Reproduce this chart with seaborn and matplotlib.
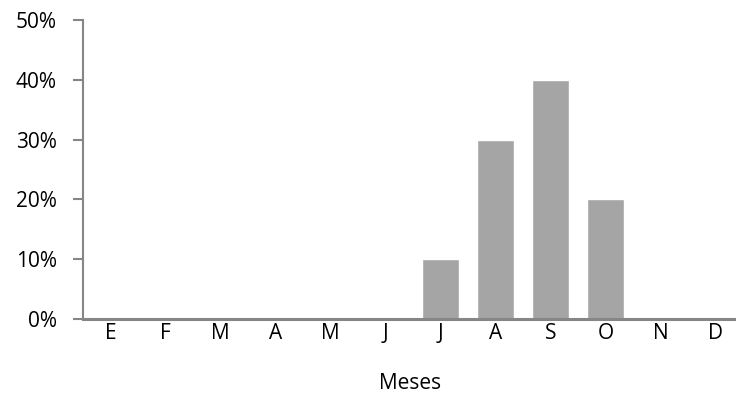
import matplotlib
matplotlib.use('Agg')
import matplotlib.pyplot as plt
import seaborn as sns
import pandas as pd
from matplotlib.ticker import PercentFormatter

# data
meses = ['E', 'F', 'M', 'A', 'M ', 'J', 'J ', 'A ', 'S', 'O', 'N', 'D']
etiquetas = ['E', 'F', 'M', 'A', 'M', 'J', 'J', 'A', 'S', 'O', 'N', 'D']
porcentaje = [0, 0, 0, 0, 0, 0, 10, 30, 40, 20, 0, 0]

df = pd.DataFrame({'mes': meses, 'pct': porcentaje})

sns.set_style('white')
plt.rcParams['font.family'] = ['Open Sans', 'DejaVu Sans']

fig = plt.figure(figsize=(7.36, 4.18), dpi=100)
ax = fig.add_axes([0.113, 0.237, 0.887, 0.715])

sns.barplot(data=df, x='mes', y='pct', color='#A5A5A5', saturation=1,
            width=0.68, ax=ax)

ax.set_xlim(-0.5, 11.37)
ax.set_ylim(0, 50)
ax.set_yticks([0, 10, 20, 30, 40, 50])
ax.yaxis.set_major_formatter(PercentFormatter(decimals=0))
ax.set_xticks(range(len(etiquetas)))
ax.set_xticklabels(etiquetas)

for side in ['top', 'right']:
    ax.spines[side].set_visible(False)
for side in ['left', 'bottom']:
    ax.spines[side].set_color('#868686')
    ax.spines[side].set_linewidth(1.5)
ax.spines['bottom'].set_linewidth(2.2)

ax.tick_params(axis='y', length=7, width=1.5, color='#868686',
               labelsize=15, labelcolor='black', pad=12, left=True)
ax.tick_params(axis='x', length=0, labelsize=15, labelcolor='black', pad=3)

ax.set_ylabel('')
ax.set_xlabel('Meses', fontsize=15, labelpad=21, color='black')

fig.savefig('out.png', dpi=100)
